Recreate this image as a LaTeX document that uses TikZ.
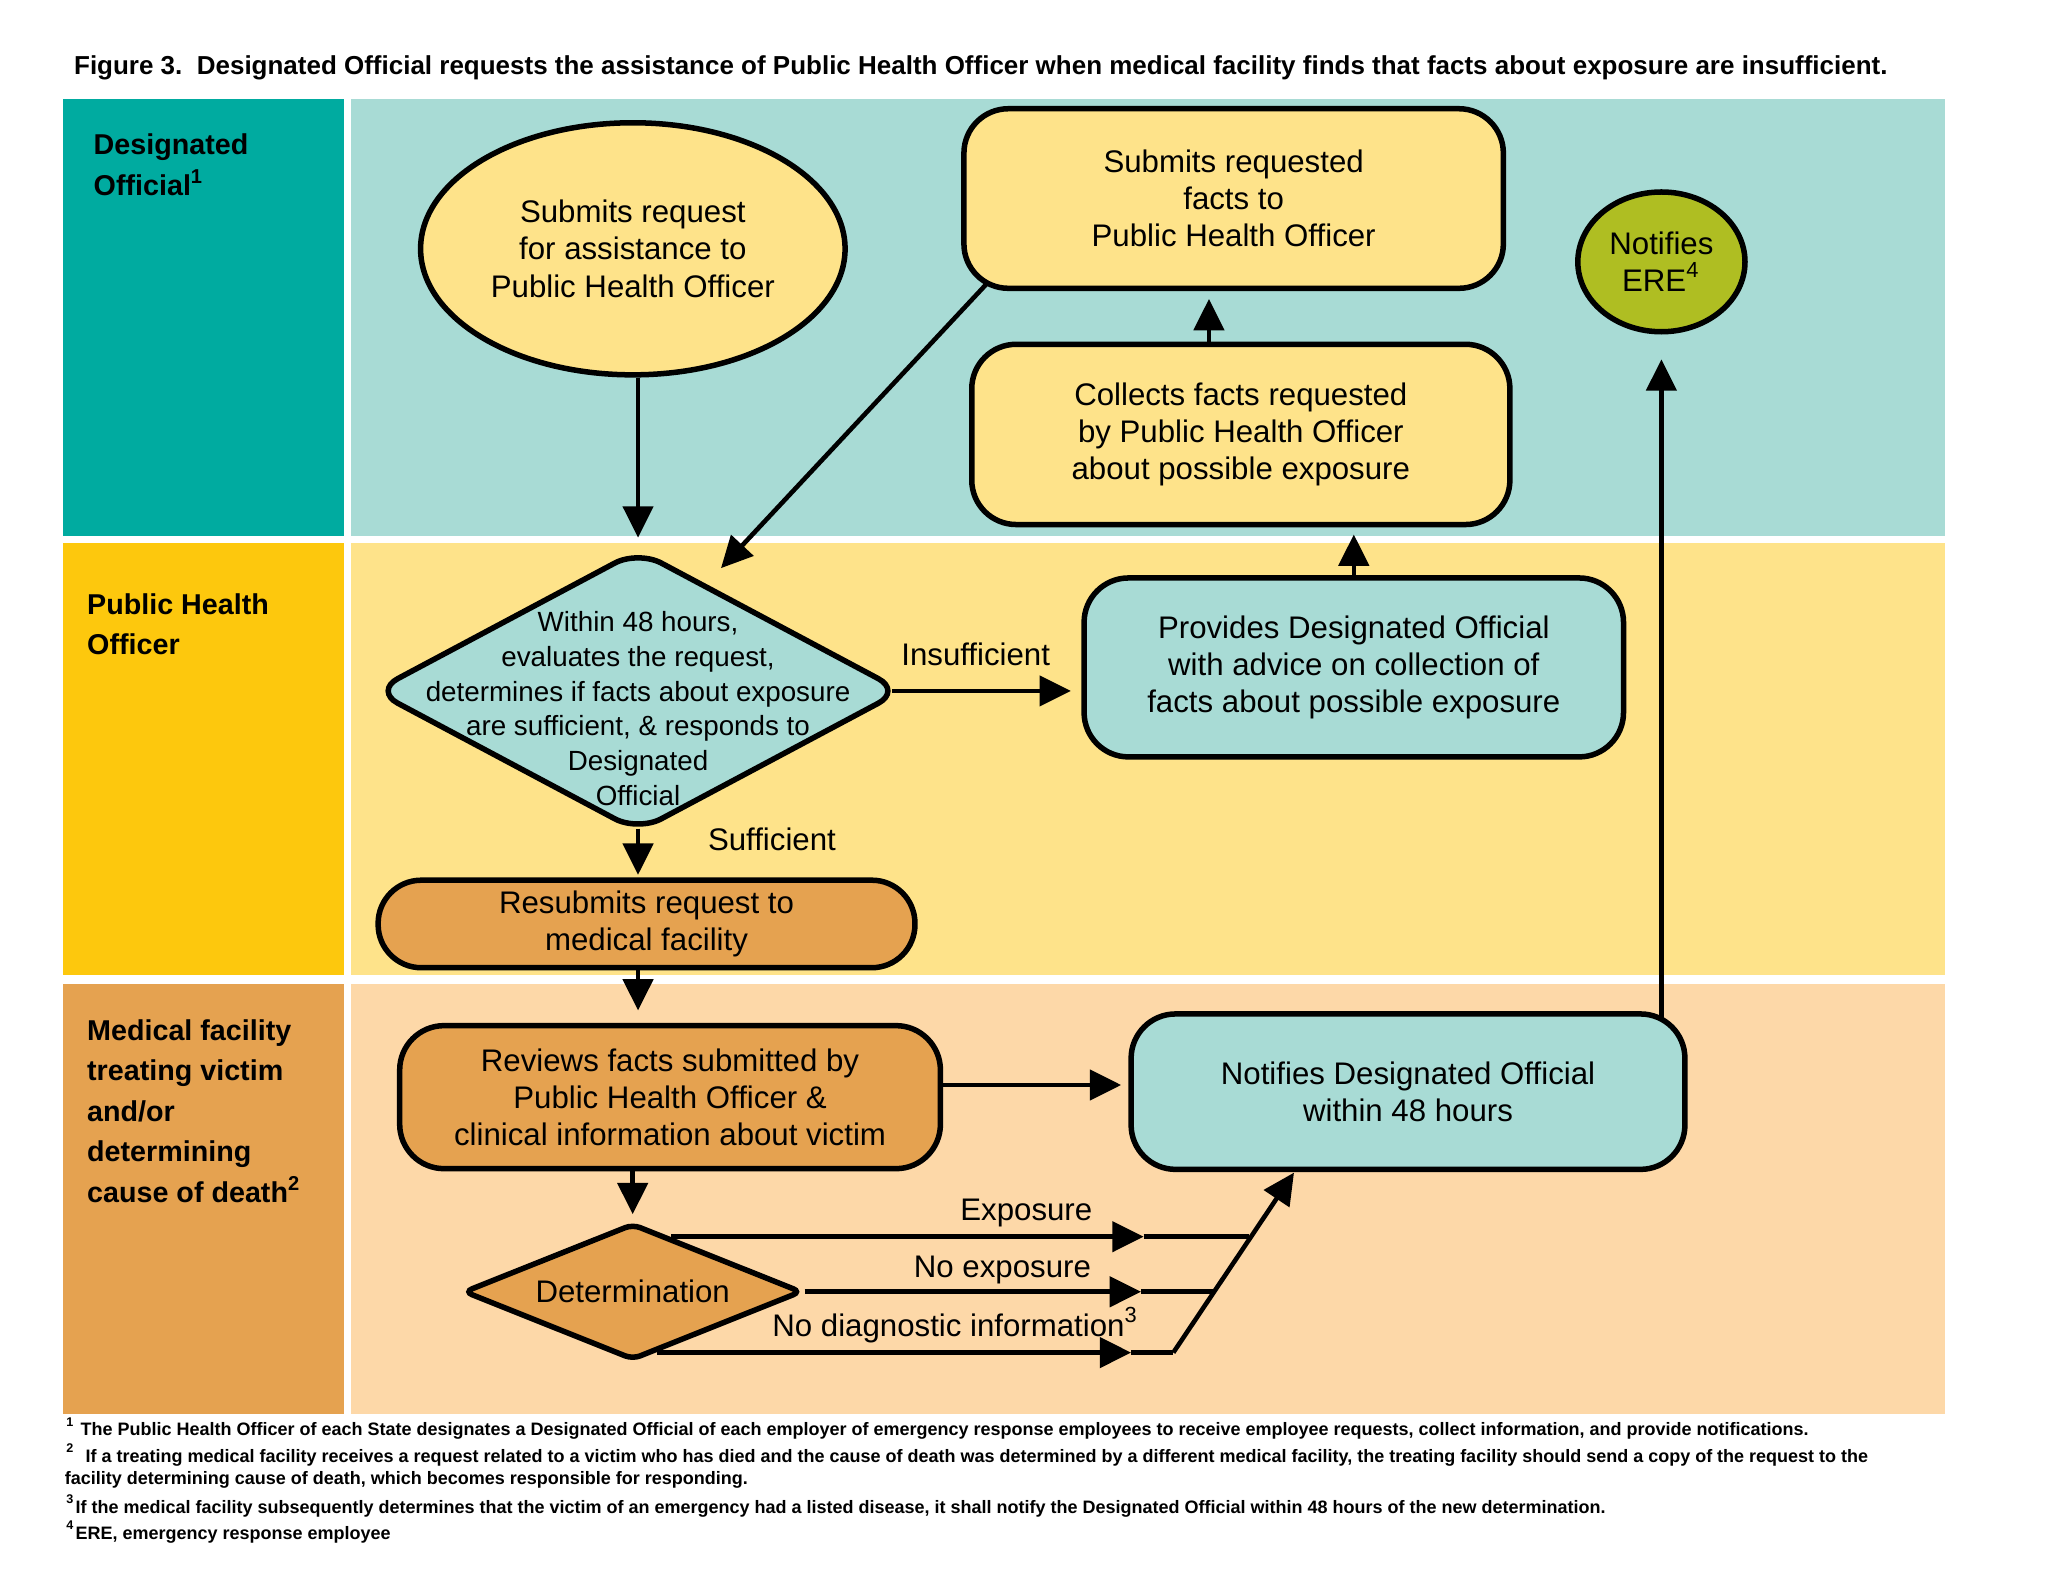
\documentclass[tikz,border=0pt]{standalone}
\usepackage{fontspec}
\setmainfont{Liberation Sans}
\usetikzlibrary{shapes.geometric,arrows.meta,calc}

\definecolor{dolabel}{HTML}{00ABA0}
\definecolor{dolane}{HTML}{A8DBD5}
\definecolor{pholabel}{HTML}{FDC80D}
\definecolor{pholane}{HTML}{FEE38A}
\definecolor{mflabel}{HTML}{E5A250}
\definecolor{mflane}{HTML}{FDD8A8}
\definecolor{eregreen}{HTML}{AFBE22}

\newcommand{\boxfont}{\fontsize{6.8}{8.1}\selectfont}
\newcommand{\evalfont}{\fontsize{6.05}{7.57}\selectfont}
\newcommand{\lanefont}{\fontsize{6.25}{8.8}\selectfont\bfseries}
\newcommand{\titlefont}{\fontsize{5.66}{6.5}\selectfont\bfseries}
\newcommand{\notefont}{\fontsize{3.92}{5}\selectfont\bfseries}

\tikzstyle{box}=[
	rectangle,
	rounded corners=0.34cm,
	draw=black,
	line width=1.2pt,
	inner sep=0pt,
	align=center,
	font=\boxfont
]
\tikzstyle{oval}=[
	ellipse,
	draw=black,
	line width=1.2pt,
	inner sep=0pt,
	align=center,
	font=\boxfont
]
\tikzstyle{decision}=[
	diamond,
	draw=black,
	line width=1.2pt,
	inner sep=0pt,
	align=center,
	font=\boxfont
]
\tikzstyle{lbl}=[inner sep=0pt, font=\boxfont]
\tikzstyle{lane}=[anchor=north west, inner sep=0pt, align=left, font=\lanefont]
\tikzstyle{note}=[anchor=west, inner sep=0pt, font=\notefont]

\begin{document}
\begin{tikzpicture}[x=1cm,y=-1cm,line width=1pt,>={Triangle[length=2.4mm,width=2.3mm]}]

\useasboundingbox (0,0) rectangle (15.68,12.196);

% Lanes
\fill[dolabel] (0.48,0.755) rectangle (2.635,4.103);
\fill[dolane] (2.685,0.755) rectangle (14.89,4.103);
\fill[pholabel] (0.48,4.155) rectangle (2.635,7.466);
\fill[pholane] (2.685,4.155) rectangle (14.89,7.466);
\fill[mflabel] (0.48,7.53) rectangle (2.635,10.826);
\fill[mflane] (2.685,7.53) rectangle (14.89,10.826);

% Title
\node[anchor=west, inner sep=0pt, font=\titlefont] (title) at (0.55,0.52)
	{Figure 3.\ \ Designated Official requests the assistance of Public Health Officer when medical facility finds that facts about exposure are insufficient.};

% Lane names
\node[lane] (dolbl) at (0.70,1.01) {Designated\\Official\textsuperscript{1}};
\node[lane] (pholbl) at (0.65,4.525) {Public Health\\Officer};
\node[lane] (mflbl) at (0.65,7.79) {Medical facility\\treating victim\\and/or\\determining\\cause of death\textsuperscript{2}};

% Designated Official requests assistance
\node[oval, fill=pholane, minimum width=3.25cm, minimum height=1.93cm] (reqast) at (4.845,1.905)
	{Submits request\\for assistance to\\Public Health Officer};

% Designated Official submits facts
\node[box, fill=pholane, minimum width=4.13cm, minimum height=1.375cm] (subfacts) at (9.445,1.52)
	{Submits requested\\facts to\\Public Health Officer};

% Designated Official collects facts
\node[box, fill=pholane, minimum width=4.12cm, minimum height=1.38cm] (collect) at (9.50,3.326)
	{Collects facts requested\\by Public Health Officer\\about possible exposure};

% Designated Official notifies ERE
\node[oval, fill=eregreen, minimum width=1.28cm, minimum height=1.07cm] (ere) at (12.72,2.005)
	{Notifies\\ERE\textsuperscript{4}};

% Public Health Officer evaluates
\node[decision, rounded corners=0.2cm, fill=dolane, minimum width=4.05cm, minimum height=2.165cm] (evaluate) at (4.885,5.29) {};
\node[lbl, align=center, font=\evalfont] (evaltxt) at (4.885,5.425)
	{Within 48 hours,\\evaluates the request,\\determines if facts about exposure\\are sufficient, \& responds to\\Designated\\Official};

% Public Health Officer gives advice
\node[box, fill=dolane, minimum width=4.13cm, minimum height=1.37cm] (advice) at (10.365,5.11)
	{Provides Designated Official\\with advice on collection of\\facts about possible exposure};

% Public Health Officer resubmits
\node[box, rounded corners=0.33cm, fill=mflabel, minimum width=4.11cm, minimum height=0.67cm] (resubmit) at (4.95,7.074)
	{Resubmits request to\\medical facility};

% Medical facility reviews
\node[box, fill=mflabel, minimum width=4.14cm, minimum height=1.095cm] (review) at (5.13,8.40)
	{Reviews facts submitted by\\Public Health Officer \&\\clinical information about victim};

% Medical facility notifies
\node[box, fill=dolane, minimum width=4.24cm, minimum height=1.19cm] (notifdo) at (10.78,8.358)
	{Notifies Designated Official\\within 48 hours};

% Medical facility determination
\node[decision, shape aspect=2.48, rounded corners=0.06cm, fill=mflabel, minimum width=2.59cm, minimum height=1.045cm] (det) at (4.844,9.89)
	{Determination};

% Points on the joining line
\coordinate (evaltip) at (5.52,4.35);
\coordinate (tipexp) at (8.756,9.48);
\coordinate (tipnoexp) at (8.736,9.89);
\coordinate (tipnodiag) at (8.66,10.336);
\coordinate (jexp) at (9.563,9.48);
\coordinate (jnoexp) at (9.286,9.89);
\coordinate (jnodiag) at (8.983,10.336);
\coordinate (notiftip) at (9.907,8.978);

% Request to evaluation
\draw[->, shorten >=0.07cm] (reqast.south -| evaluate.north) -- (evaluate.north);

% Submitted facts to evaluation
\draw[->] ($(subfacts.south west)+(0.19,-0.05)$) -- (evaltip);

% Collected facts to submission
\draw[->, shorten >=0.06cm] ([xshift=-0.244cm]collect.north) -- ([xshift=-0.244cm]collect.north |- subfacts.south);

% Advice to collection
\draw[->, shorten >=0.055cm] (advice.north) -- (advice.north |- collect.south);

% Insufficient
\draw[->, shorten >=0.08cm] ([xshift=-0.1cm]evaluate.east) -- (evaluate.east -| advice.west);
\node[lbl] (linsuf) at (7.47,5.01) {Insufficient};

% Sufficient
\draw[->, shorten >=0.02cm] ([yshift=0.05cm]evaluate.south) -- (evaluate.south |- resubmit.north);
\node[lbl] (lsuf) at (5.91,6.43) {Sufficient};

% Resubmission to review
\draw[->, shorten >=0.095cm] (resubmit.south -| evaluate.south) -- (evaluate.south |- review.north);

% Review to notification
\draw[->, shorten >=0.055cm] ([yshift=0.093cm]review.east) -- ([yshift=0.093cm]review.east -| notifdo.west);

% Review to determination
\draw[->, shorten >=0.05cm] (review.south -| det.north) -- (det.north);

% Exposure
\draw[->] (det.55) -- (det.55 -| tipexp);
\draw (det.55 -| tipexp) -- (det.55 -| jexp);
\node[lbl, anchor=east] (lexp) at (8.38,9.29) {Exposure};

% No exposure
\draw[->] (det.east) -- (det.east -| tipnoexp);
\draw (det.east -| tipnoexp) -- (det.east -| jnoexp);
\node[lbl, anchor=east] (lnoexp) at (8.37,9.72) {No exposure};

% No diagnostic information
\draw[->] (det.-68) -- (det.-68 -| tipnodiag);
\draw (det.-68 -| tipnodiag) -- (det.-68 -| jnodiag);
\node[lbl, anchor=west] (lnodiag) at (5.896,10.146) {No diagnostic information\textsuperscript{3}};

% Joining line to notification
\draw[->] (det.-68 -| jnodiag) -- (notiftip);

% Notification to ERE
\draw[->, shorten >=0.19cm] ($(notifdo.north -| ere.south)+(0,0.05)$) -- (ere.south);

% Footnotes
\node[note] (note1) at (0.49,10.94) {\textsuperscript{1} The Public Health Officer of each State designates a Designated Official of each employer of emergency response employees to receive employee requests, collect information, and provide notifications.};
\node[note] (note2) at (0.49,11.14) {\textsuperscript{2}\ \ If a treating medical facility receives a request related to a victim who has died and the cause of death was determined by a different medical facility, the treating facility should send a copy of the request to the};
\node[note] (note2b) at (0.48,11.33) {facility determining cause of death, which becomes responsible for responding.};
\node[note] (note3) at (0.49,11.53) {\textsuperscript{3}If the medical facility subsequently determines that the victim of an emergency had a listed disease, it shall notify the Designated Official within 48 hours of the new determination.};
\node[note] (note4) at (0.49,11.73) {\textsuperscript{4}ERE, emergency response employee};

\end{tikzpicture}
\end{document}
